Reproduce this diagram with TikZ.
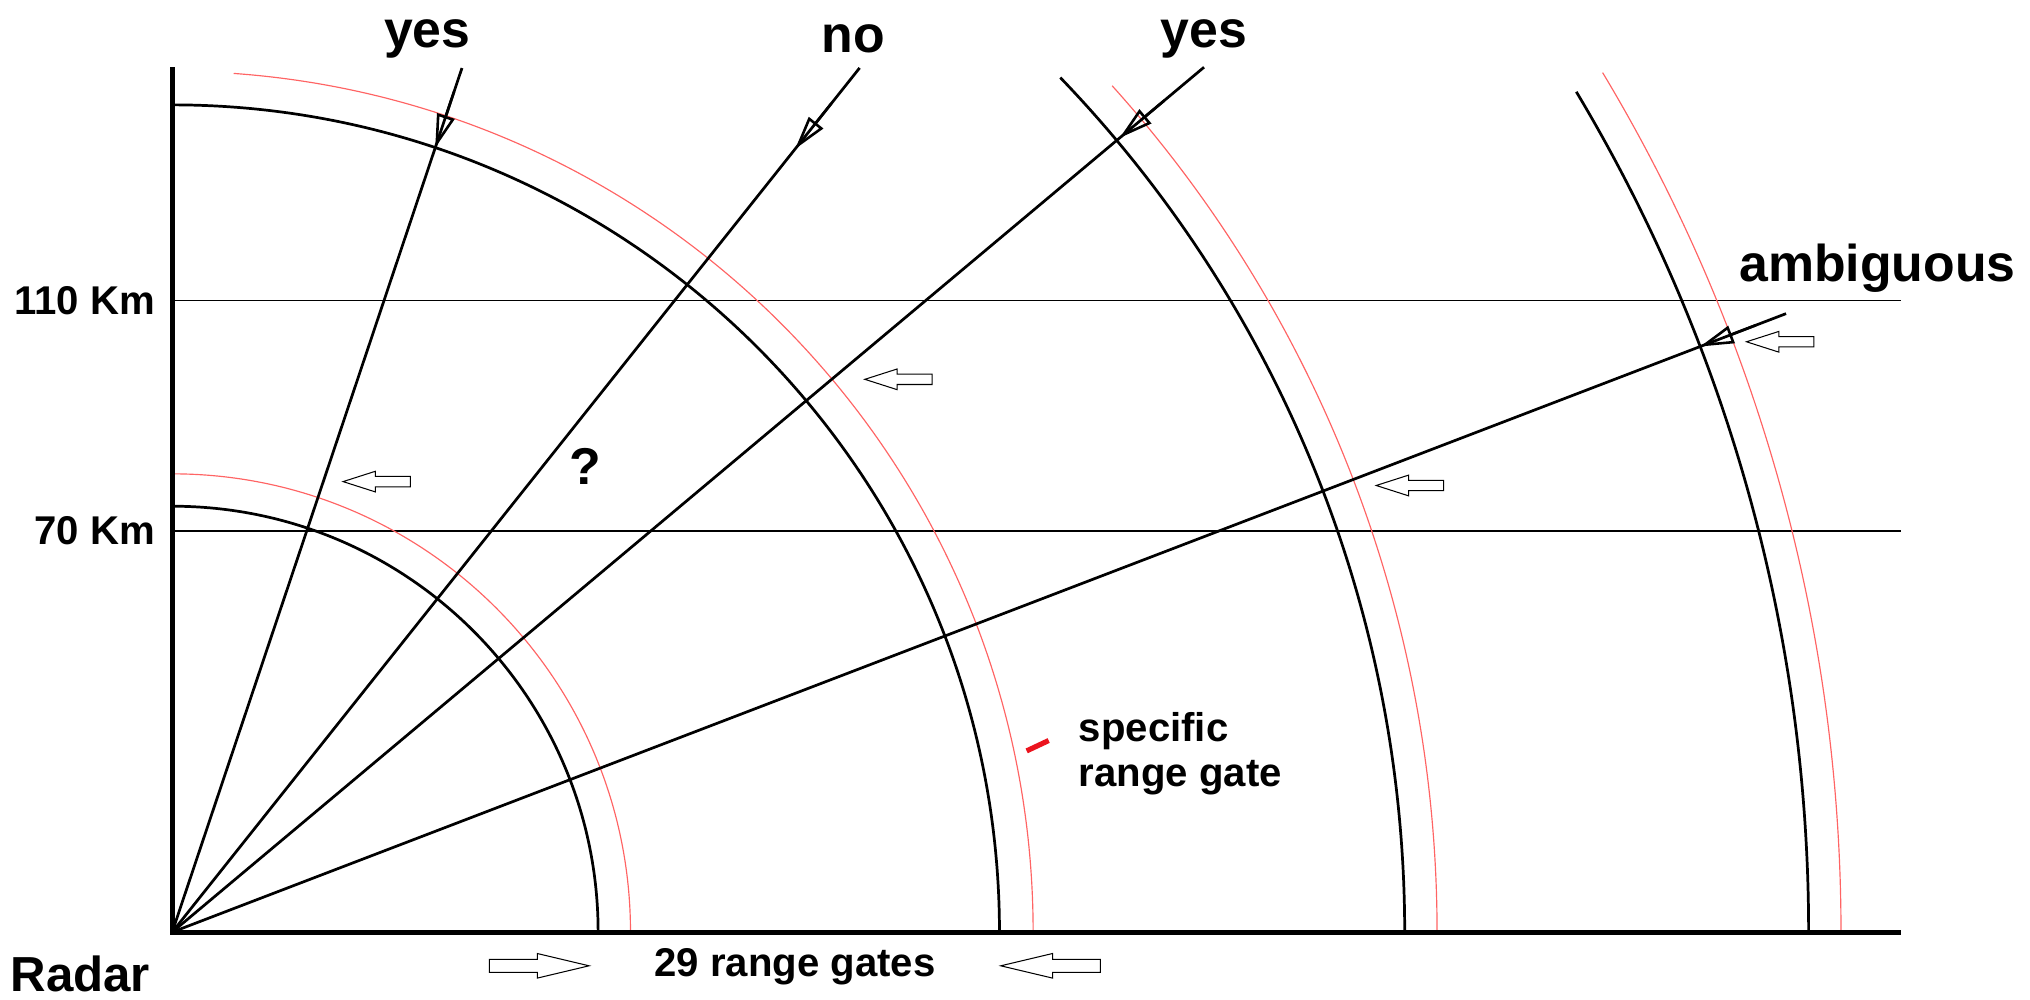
\documentclass[tikz,border=0pt]{standalone}
\usepackage{fontspec}
\setmainfont{Liberation Sans}
\usetikzlibrary{arrows.meta}
\definecolor{gatered}{RGB}{255,100,100}
\definecolor{markred}{RGB}{235,20,30}
\begin{document}
\begin{tikzpicture}[x=0.5pt,y=0.5pt,
  axis/.style={line width=2pt},
  arcb/.style={line width=1.05pt},
  arcr/.style={line width=0.45pt, draw=gatered},
  ray/.style={line width=1.05pt},
  level/.style={line width=0.55pt},
  big/.style={font=\bfseries\fontsize{20}{24}\selectfont, inner sep=0pt},
  lab/.style={font=\bfseries\fontsize{15.5}{17.5}\selectfont, inner sep=0pt},
  rayhead/.style={line width=1pt, -{Triangle[open,length=13pt,width=7pt]}},
  blk/.style={line width=0.4pt},
  pics/blockarrow/.style args={#1/#2/#3/#4}{code={
    \draw[blk] (0,0) -- (#2,#3/2) -- (#2,#4/2) -- (#1,#4/2) -- (#1,-#4/2) -- (#2,-#4/2) -- (#2,-#3/2) -- cycle;}}
]
\useasboundingbox (-133,-52) rectangle (1435,720);

% axes
\coordinate (O) at (0,0);
\coordinate (Ytop) at (0,668);
\coordinate (Xend) at (1335,0);

% levels
\coordinate (L110a) at (0,488);
\coordinate (L110b) at (1335,488);
\coordinate (L70a) at (0,310);
\coordinate (L70b) at (1335,310);
\draw[level] (L110a) -- (L110b);
\draw[level] (L70a) -- (L70b);

% range gate arcs
\draw[arcb] (90:329) arc[start angle=90, end angle=0, radius=329];
\draw[arcr] (90:354) arc[start angle=90, end angle=0, radius=354];
\draw[arcb] (90:639) arc[start angle=90, end angle=0, radius=639];
\draw[arcr] (85.9:665) arc[start angle=85.9, end angle=0, radius=665];
\draw[arcb] (43.9:952) arc[start angle=43.9, end angle=0, radius=952];
\draw[arcr] (42.0:977) arc[start angle=42.0, end angle=0, radius=977];
\draw[arcb] (30.9:1264) arc[start angle=30.9, end angle=0, radius=1264];
\draw[arcr] (31.0:1289) arc[start angle=31.0, end angle=0, radius=1289];

\draw[axis] (Ytop) -- (O) -- (Xend);

% rays
\coordinate (R1) at (71.46:704);
\coordinate (R2) at (51.5:853);
\coordinate (R3) at (39.97:1040);
\coordinate (R4) at (20.97:1335);
\draw[ray] (O) -- (R1);
\draw[ray] (O) -- (R2);
\draw[ray] (O) -- (R3);
\draw[ray] (O) -- (R4);

% ray arrowheads
\coordinate (h1a) at (71.46:685);
\coordinate (h1b) at (71.46:639);
\coordinate (h2a) at (51.5:818);
\coordinate (h2b) at (51.5:773);
\coordinate (h3a) at (39.97:1000);
\coordinate (h3b) at (39.97:955);
\coordinate (h4a) at (20.97:1310);
\coordinate (h4b) at (20.97:1264);
\draw[rayhead] (h1a) -- (h1b);
\draw[rayhead] (h2a) -- (h2b);
\draw[rayhead] (h3a) -- (h3b);
\draw[rayhead] (h4a) -- (h4b);

% block arrows
\pic (ba1) at (132,348) {blockarrow=52/25/16/8};
\pic (ba2) at (535,427) {blockarrow=52/25/16/8};
\pic (ba3) at (930,345) {blockarrow=52/25/16/8};
\pic (ba4) at (1216,456) {blockarrow=52/25/16/8};
\pic[rotate=180] (ba5) at (322,-26) {blockarrow=77/40/19/10};
\pic (ba6) at (640,-26) {blockarrow=77/40/19/10};

% labels
\node[big] (yes1) at (197,690) {yes};
\node[big] (no) at (526,690) {no};
\node[big] (yes2) at (797,690) {yes};
\node[big, anchor=west] (amb) at (1210,513) {ambiguous};
\node[lab, anchor=east] (k110) at (-13,488) {110 Km};
\node[lab, anchor=east] (k70) at (-13,310) {70 Km};
\node[font=\bfseries\fontsize{19}{21}\selectfont, inner sep=0pt] (radar) at (-71,-32) {Radar};
\node[lab] (gates) at (481,-27) {29 range gates};
\node[font=\bfseries\fontsize{20}{22}\selectfont, inner sep=0pt] (q) at (319,360) {?};

% specific range gate marker
\coordinate (m1) at (660,140);
\coordinate (m2) at (677,148);
\draw[markred, line width=2pt] (m1) -- (m2);
\node[lab, anchor=west, align=left] (spec) at (700,138) {specific\\range gate};
\end{tikzpicture}
\end{document}
